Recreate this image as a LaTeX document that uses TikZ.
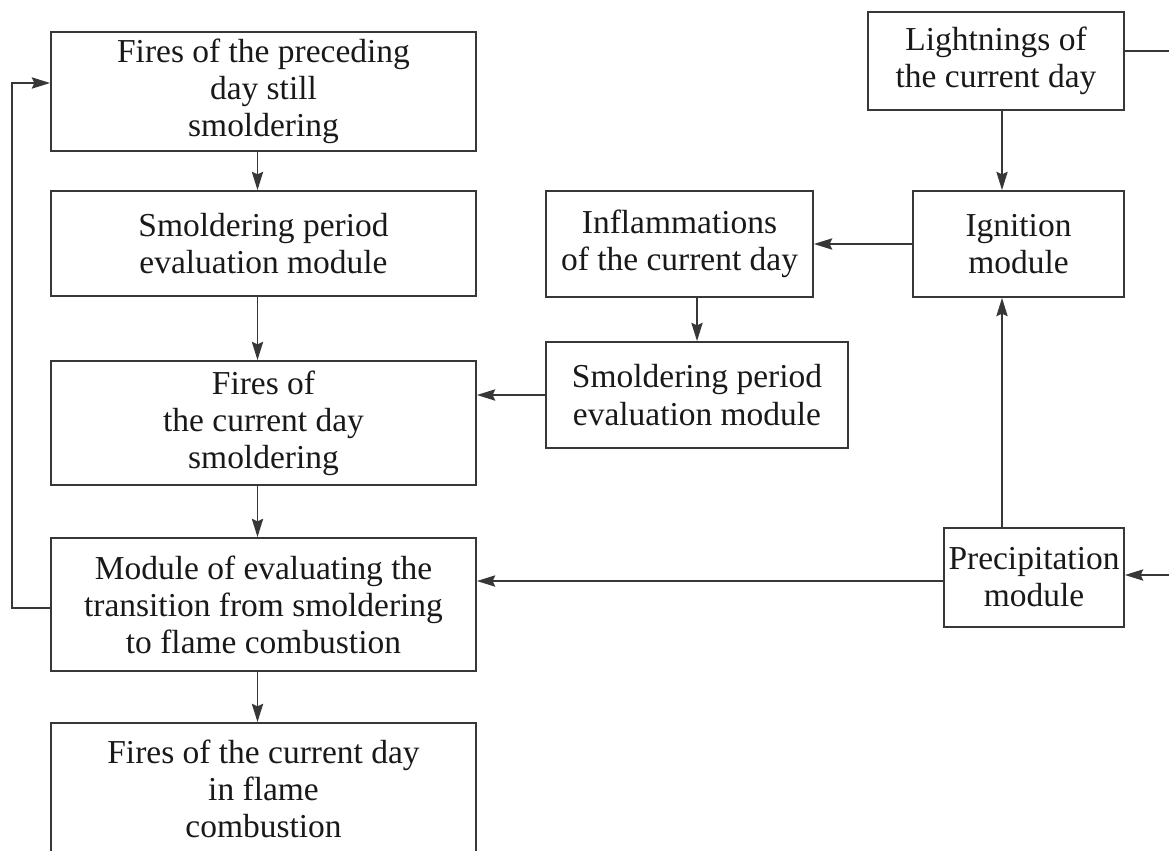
\documentclass[tikz,border=0pt]{standalone}
\usepackage{fontspec}
\setmainfont{Liberation Serif}
\usepackage{tikz}
\usetikzlibrary{arrows.meta,positioning,calc}
\usepackage{xcolor}
\definecolor{flowline}{RGB}{55,55,55}
\newcommand{\unitpx}{0.025cm}
\tikzset{
    module/.style={rectangle, draw=flowline, line width=1.3pt, align=center, inner sep=2pt, text=black!90, font=\fontsize{23.8}{26.4}\selectfont},
    flow/.style={line width=1.2pt, draw=flowline, -{Stealth[length=13pt,width=8pt,inset=1.8pt]}},
    link/.style={line width=1.2pt, draw=flowline},
}

\begin{document}
\begin{tikzpicture}[x=0.025cm, y=-0.025cm]
    \useasboundingbox (0,0) rectangle (1169,850);
    % Left column
    \node[module, minimum width=425*\unitpx, minimum height=119*\unitpx] (prev) at (263.5,91.5) {Fires of the preceding\\day still\\smoldering};
    \node[module, minimum width=425*\unitpx, minimum height=105*\unitpx] (smolA) at (263.5,243.5) {Smoldering period\\evaluation module};
    \node[module, minimum width=425*\unitpx, minimum height=124*\unitpx] (curr) at (263.5,423) {Fires of\\the current day\\smoldering};
    \node[module, minimum width=425*\unitpx, minimum height=133*\unitpx] (trans) at (263.5,604.5) {Module of evaluating the\\transition from smoldering\\to flame combustion};
    \node[module, minimum width=425*\unitpx, minimum height=132*\unitpx] (flame) at (263.5,789) {Fires of the current day\\in flame\\combustion};
    % Right column
    \node[module, minimum width=256*\unitpx, minimum height=98*\unitpx] (light) at (996,61) {Lightnings of\\the current day};
    \node[module, minimum width=211*\unitpx, minimum height=106*\unitpx] (ign) at (1018.5,244) {Ignition\\module};
    \node[module, minimum width=267*\unitpx, minimum height=106*\unitpx] (infl) at (679.5,244) {Inflammations\\of the current day};
    \node[module, minimum width=302*\unitpx, minimum height=106*\unitpx] (smolB) at (697,395) {Smoldering period\\evaluation module};
    \node[module, minimum width=180*\unitpx, minimum height=99*\unitpx] (prec) at (1034,577.5) {Precipitation\\module};
    % Helper coordinates
    \coordinate (lx) at (257.5,0);
    \coordinate (vline) at (1002,0);
    \coordinate (fb) at (12,83);
    \coordinate (rin) at (1169,575);
    \coordinate (rout) at (1169,51);
    % Left chain
    \draw[flow] (lx |- prev.south) -- (lx |- smolA.north);
    \draw[flow] (lx |- smolA.south) -- (lx |- curr.north);
    \draw[flow] (lx |- curr.south) -- (lx |- trans.north);
    \draw[flow] (lx |- trans.south) -- (lx |- flame.north);
    \draw[flow] ([yshift=-2.5pt]trans.west) -| (fb) -- (fb -| prev.west);
    % Right chain
    \draw[flow] (vline |- light.south) -- (vline |- ign.north);
    \draw[flow] (ign.west) -- (infl.east);
    \draw[flow] (infl.south -| smolB.north) -- (smolB.north);
    \draw[flow] (smolB.west) -- (smolB.west -| curr.east);
    \draw[flow] (vline |- prec.north) -- (vline |- ign.south);
    \draw[flow] ([yshift=-2.5pt]prec.west) -- ([yshift=-2.5pt]prec.west -| trans.east);
    \draw[flow] (rin) -- (rin -| prec.east);
    \draw[link] (rout -| light.east) -- (rout);
\end{tikzpicture}
\end{document}
